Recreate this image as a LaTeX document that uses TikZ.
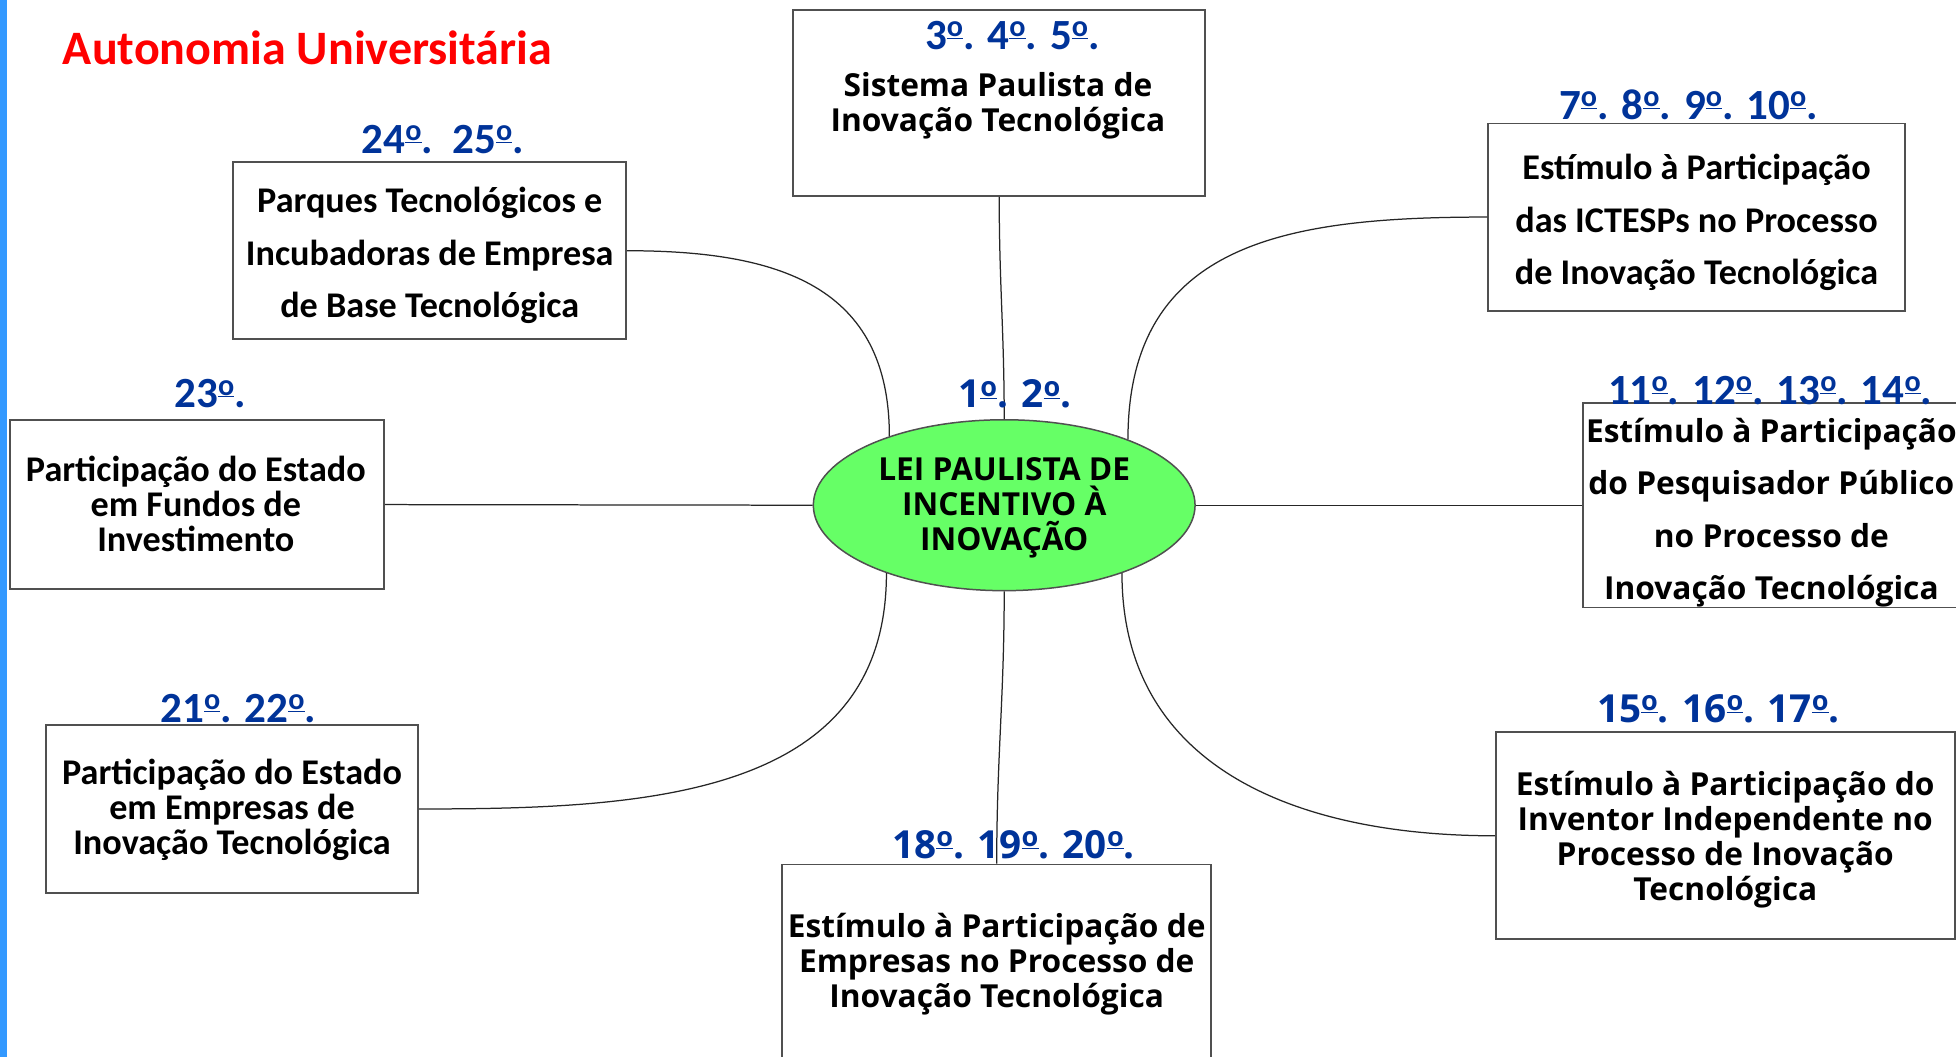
\documentclass[tikz,border=0pt]{standalone}
\usepackage{fontspec}
\setmainfont{Carlito}
\newfontfamily\tah{Open Sans}
\usetikzlibrary{shapes.geometric}
\definecolor{lblblue}{HTML}{003399}
\definecolor{titlered}{HTML}{FF0000}
\definecolor{barblue}{HTML}{3399FF}
\definecolor{boxgray}{HTML}{505050}
\definecolor{leigreen}{HTML}{66FF66}
\newcommand\ordo{\raisebox{0.3em}{\scalebox{0.7}{\underline{o}}}}
\tikzset{
  box/.style={draw=boxgray, line width=1.5pt, rectangle, inner sep=0pt, fill=white},
  lei/.style={ellipse, draw=boxgray, line width=1.2pt, fill=leigreen, inner sep=0pt,
              minimum width=306pt, minimum height=137pt},
  link/.style={draw=black!85, line width=1pt},
  caltight/.style={align=center, inner sep=0pt, font=\fontsize{29pt}{28pt}\selectfont\bfseries},
  calwide/.style={align=center, inner sep=0pt, font=\fontsize{29pt}{42pt}\selectfont\bfseries},
  tahtight/.style={align=center, inner sep=0pt, font=\tah\fontsize{25.4pt}{28pt}\selectfont\bfseries},
  tahwide/.style={align=center, inner sep=0pt, font=\tah\fontsize{25.4pt}{42pt}\selectfont\bfseries},
  callbl/.style={anchor=base, inner sep=0pt, text=lblblue, font=\fontsize{34.5pt}{40pt}\selectfont\bfseries},
  tahlbl/.style={anchor=base, inner sep=0pt, text=lblblue, font=\tah\fontsize{31pt}{36pt}\selectfont\bfseries},
}
\begin{document}
\begin{tikzpicture}[x=1pt,y=1pt]
\useasboundingbox (0,0) rectangle (1568,847);
\clip (0,0) rectangle (1568,847);
\fill[white] (0,0) rectangle (1568,847);
\fill[barblue] (0,0) rectangle (6,847);

% title
\node[anchor=base, inner sep=0pt, text=titlered, font=\fontsize{38.5pt}{44pt}\selectfont\bfseries] (title) at (246.5,795) {Autonomia Universitária};

% boxes
\node[box, minimum width=315pt, minimum height=142pt] (b24) at (344.5,646) {};
\node[box, minimum width=330pt, minimum height=149pt] (b3) at (801,764.5) {};
\node[box, minimum width=334pt, minimum height=150pt] (b7) at (1360,673) {};
\node[box, minimum width=311pt, minimum height=164pt] (b11) at (1424.5,442) {};
\node[box, minimum width=300pt, minimum height=135pt] (b23) at (158,442.5) {};
\node[box, minimum width=298pt, minimum height=135pt] (b21) at (186,198.5) {};
\node[box, minimum width=368pt, minimum height=166pt] (b15) at (1383,177) {};
\node[box, minimum width=344pt, minimum height=187pt] (b18) at (799,60.5) {};
\node[lei] (lei) at (805,442) {};

% connectors
\draw[link] (b3.south) to[out=-90,in=90] (lei.north);
\draw[link] (lei.south) to[out=-90,in=90] (b18.north);
\draw[link] (b23.east) -- (lei.west);
\draw[link] (lei.east) -- (b11.west);
\draw[link] (b24.east) to[out=0,in=90,looseness=1.2] (lei.149.6);
\draw[link] (b7.west) to[out=180,in=90,looseness=1.2] (lei.28.6);
\draw[link] (b21.east) to[out=0,in=-90,looseness=1.1] (lei.210.3);
\draw[link] (b15.west) to[out=180,in=-90,looseness=1.1] (lei.330.4);

% texts
\node[calwide] (t24) at (344.5,642) {Parques Tecnológicos e\\Incubadoras de Empresa\\de Base Tecnológica};
\node[tahtight] (t3) at (800,762) {Sistema Paulista de\\Inovação Tecnológica};
\node[calwide] (t7) at (1360,668.5) {Estímulo à Participação\\das ICTESPs no Processo\\de Inovação Tecnológica};
\node[tahwide] (t11) at (1420,436) {Estímulo à Participação\\do Pesquisador Público\\no Processo de\\Inovação Tecnológica};
\node[caltight] (t23) at (157,443) {Participação do Estado\\em Fundos de\\Investimento};
\node[tahtight] (tlei) at (805,440) {LEI PAULISTA DE\\INCENTIVO À\\INOVAÇÃO};
\node[caltight] (t21) at (186,198) {Participação do Estado\\em Empresas de\\Inovação Tecnológica};
\node[tahtight] (t15) at (1383,174) {Estímulo à Participação do\\Inventor Independente no\\Processo de Inovação\\Tecnológica};
\node[tahtight] (t18) at (799,74) {Estímulo à Participação de\\Empresas no Processo de\\Inovação Tecnológica};

% labels
\node[callbl] (l24) at (355,724) {24\ordo.\ \ 25\ordo.};
\node[callbl] (l3) at (811.5,807) {3\ordo. 4\ordo. 5\ordo.};
\node[callbl] (l7) at (1353.5,751) {7\ordo. 8\ordo. 9\ordo. 10\ordo.};
\node[callbl] (l11) at (1419,523) {11\ordo. 12\ordo. 13\ordo. 14\ordo.};
\node[callbl] (l23) at (168.5,520) {23\ordo.};
\node[tahlbl] (l1) at (813.5,520) {1\ordo. 2\ordo.};
\node[callbl] (l21) at (191,268) {21\ordo. 22\ordo.};
\node[tahlbl] (l15) at (1377.5,268) {15\ordo. 16\ordo. 17\ordo.};
\node[tahlbl] (l18) at (812.5,159) {18\ordo. 19\ordo. 20\ordo.};
\end{tikzpicture}
\end{document}
